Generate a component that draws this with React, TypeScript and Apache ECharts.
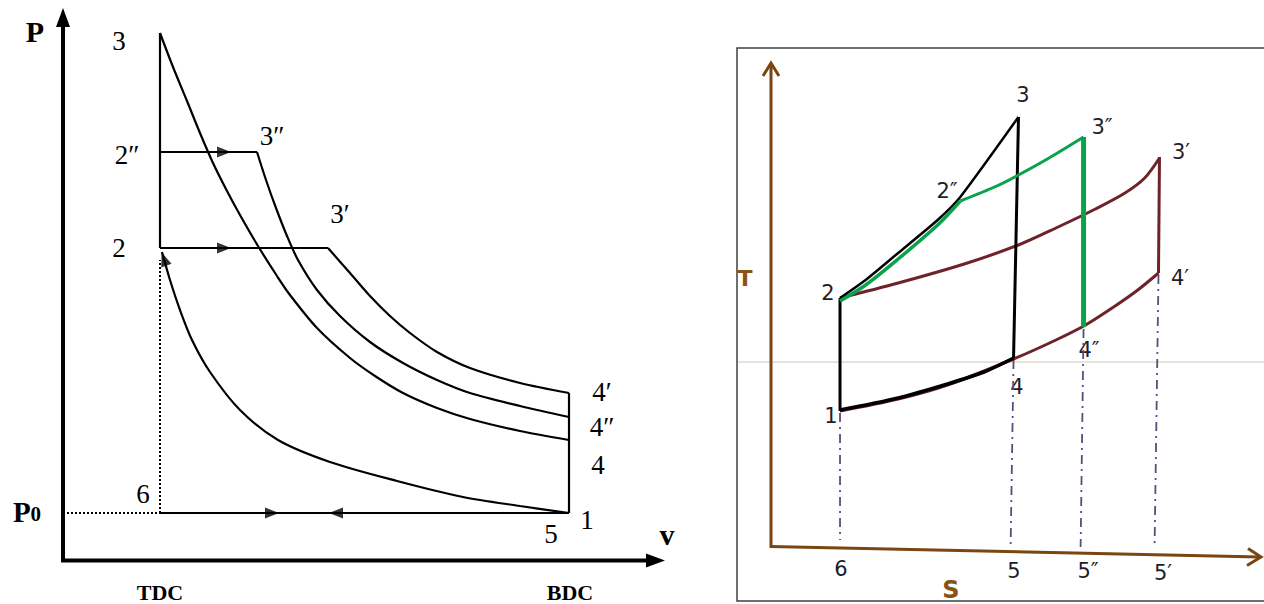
import React, { useEffect, useRef } from "react";
import * as echarts from "echarts";

// ---------- Left: P–v diagram (v measured right of the P axis, P above the v axis) ----------
const vTDC = 97;
const vBDC = 506;
const pP0 = 47;
const pState2 = 312;
const pState2dd = 408;
const pState3 = 527;
const vState3dd = 194;
const vState3d = 265;
const pState4d = 167;

const curve34: number[][] = [
  [97, 527], [110, 493], [124, 459], [137, 427], [150, 397], [164, 369], [177, 345],
  [195, 314], [214, 284], [227, 265], [254, 232], [287, 202], [312, 184], [340, 167],
  [374, 152], [407, 141], [457, 129], [506, 120],
];
const curve3dd4dd: number[][] = [
  [194, 408], [203, 380], [213, 352], [224, 324], [235, 300], [254, 270], [277, 244],
  [307, 218], [340, 197], [374, 180], [407, 167], [457, 154], [506, 143],
];
const curve3d4d: number[][] = [
  [265, 312], [287, 287], [307, 264], [327, 244], [347, 227], [374, 208], [407, 192],
  [457, 177], [506, 167],
];
const curve12: number[][] = [
  [506, 47], [457, 54], [400, 63], [334, 79], [267, 98], [215, 120], [177, 150],
  [147, 188], [129, 220], [117, 250], [107, 280], [99, 308],
];
const arrowsRight: number[][] = [[161, pState2dd], [161, pState2], [209, pP0]];
const arrowsLeft: number[][] = [[273, pP0]];
const arrowCompression: number[][] = [[101, 301]];

// ---------- Right: T–s diagram (s right of the T axis, T above the s axis) ----------
const ts1 = [70, 136];
const ts2 = [70, 249];
const ts3 = [251, 430];
const ts3dd = [317, 410];
const ts3d = [394, 390];
const ts4 = [246, 189];
const ts4dd = [317, 220];
const ts4d = [393, 274];

const tsBlack2to3: number[][] = [[70, 249], [96, 267], [129, 294], [169, 327], [192, 350], [251, 430]];
const tsBlack1to4: number[][] = [[70, 137], [129, 149], [179, 163], [216, 175], [246, 189]];
const tsGreen2to2dd: number[][] = [[70, 246], [96, 262], [129, 288], [169, 322], [192, 346]];
const tsGreen2ddto3dd: number[][] = [[192, 346], [229, 361], [251, 372], [282, 389], [317, 410]];
const tsMaroon2to3d: number[][] = [
  [70, 249], [129, 264], [196, 283], [251, 302], [289, 319], [329, 338], [359, 354], [379, 369], [394, 389],
];
const tsMaroon1to4d: number[][] = [
  [70, 136], [129, 148], [179, 162], [246, 188], [289, 207], [319, 222], [349, 241], [372, 257], [393, 274],
];
const tsProjections: number[][][] = [
  [[70, 134], [70, 7]],
  [[246, 187], [243, 1]],
  [[317, 218], [314, 0]],
  [[393, 272], [389, -1]],
];

const BLACK = "#000000";
const GREEN = "#0aa24b";
const MAROON = "#6e2229";
const BROWN = "#7a4510";
const DASHDOT = "#5e4b7c";
const SERIF = "Liberation Serif";
const SANS = "DejaVu Sans";

function seg(data: number[][], color: string, width: number, grid: number, extra: any = {}) {
  return {
    type: "line",
    xAxisIndex: grid,
    yAxisIndex: grid,
    data,
    symbol: "none",
    clip: false,
    silent: true,
    lineStyle: { color, width, ...(extra.lineStyle || {}) },
    smooth: extra.smooth ?? false,
    z: extra.z ?? 2,
  };
}

function arrows(data: number[][], rotate: number) {
  return {
    type: "scatter",
    xAxisIndex: 0,
    yAxisIndex: 0,
    data,
    symbol: "triangle",
    symbolSize: [11, 14],
    symbolRotate: rotate,
    itemStyle: { color: BLACK },
    clip: false,
    silent: true,
    z: 5,
  };
}

function txt(text: string, x: number, y: number, size: number, opts: any = {}) {
  return {
    type: "text",
    x,
    y,
    silent: true,
    style: {
      text,
      fill: opts.color || "#000",
      font: `${opts.bold ? "bold " : ""}${size}px "${opts.family || SERIF}"`,
      textAlign: "center",
      textVerticalAlign: "middle",
    },
  };
}

export default function App() {
  const ref = useRef<HTMLDivElement>(null);
  useEffect(() => {
    if (!ref.current) return;
    const chart = echarts.init(ref.current, undefined, { renderer: "svg" });
    const sansOpt = { family: SANS, color: "#1e1e28" };
    const SM = 0.3;
    const option: any = {
      animation: false,
      backgroundColor: "#ffffff",
      grid: [
        { left: 63, top: 10, width: 600, height: 550 },
        { left: 771, top: 0, width: 500, height: 547 },
      ],
      xAxis: [
        { type: "value", gridIndex: 0, min: 0, max: 600, show: false },
        { type: "value", gridIndex: 1, min: 0, max: 500, show: false },
      ],
      yAxis: [
        { type: "value", gridIndex: 0, min: 0, max: 550, show: false },
        { type: "value", gridIndex: 1, min: 0, max: 547, show: false },
      ],
      series: [
        // P–v diagram
        seg([[vTDC, pState2], [vTDC, pState3]], BLACK, 2.2, 0),
        seg([[vTDC, pState2dd], [vState3dd, pState2dd]], BLACK, 2.2, 0),
        seg([[vTDC, pState2], [vState3d, pState2]], BLACK, 2.2, 0),
        seg([[vTDC, pP0], [vBDC, pP0]], BLACK, 2.2, 0),
        seg([[vBDC, pP0], [vBDC, pState4d]], BLACK, 2.2, 0),
        seg(curve34, BLACK, 2.2, 0, { smooth: SM }),
        seg(curve3dd4dd, BLACK, 2.2, 0, { smooth: SM }),
        seg(curve3d4d, BLACK, 2.2, 0, { smooth: SM }),
        seg(curve12, BLACK, 2.2, 0, { smooth: SM }),
        seg([[0, pP0], [vTDC, pP0]], BLACK, 2, 0, { lineStyle: { type: [2, 2] } }),
        seg([[vTDC, pP0], [vTDC, 300]], BLACK, 2, 0, { lineStyle: { type: [2, 2] } }),
        arrows(arrowsRight, -90),
        arrows(arrowsLeft, 90),
        arrows(arrowCompression, 20),
        // T–s diagram
        ...tsProjections.map((p) => seg(p, DASHDOT, 1.8, 1, { lineStyle: { type: [9, 5, 2, 5] }, z: 1 })),
        seg(tsMaroon2to3d, MAROON, 3, 1, { smooth: SM }),
        seg([ts3d, ts4d], MAROON, 3, 1),
        seg(tsMaroon1to4d, MAROON, 3, 1, { smooth: SM }),
        seg(tsBlack1to4, BLACK, 3.5, 1, { smooth: SM, z: 3 }),
        seg([ts1, ts2], BLACK, 3, 1, { z: 3 }),
        seg(tsBlack2to3, BLACK, 2.5, 1, { smooth: 0.2, z: 3 }),
        seg([ts3, ts4], BLACK, 3, 1, { z: 3 }),
        seg(tsGreen2to2dd, GREEN, 3.5, 1, { smooth: SM, z: 4 }),
        seg(tsGreen2ddto3dd, GREEN, 3, 1, { smooth: SM, z: 4 }),
        seg([ts3dd, ts4dd], GREEN, 5, 1, { z: 4 }),
      ],
      graphic: [
        // right panel frame and faint rule
        { type: "rect", shape: { x: 737, y: 48, width: 540, height: 553 }, style: { fill: "none", stroke: "#404040", lineWidth: 1.5 }, silent: true, z: 0 },
        { type: "line", shape: { x1: 738, y1: 362, x2: 1264, y2: 362 }, style: { stroke: "#e6e3da", lineWidth: 2 }, silent: true, z: 0 },
        // left axes
        { type: "line", shape: { x1: 63, y1: 562, x2: 63, y2: 24 }, style: { stroke: BLACK, lineWidth: 4 }, silent: true },
        { type: "polygon", shape: { points: [[63, 8], [56, 27], [70, 27]] }, style: { fill: BLACK }, silent: true },
        { type: "line", shape: { x1: 61, y1: 560.5, x2: 650, y2: 560.5 }, style: { stroke: BLACK, lineWidth: 4 }, silent: true },
        { type: "polygon", shape: { points: [[665, 560.5], [646, 553.5], [646, 567.5]] }, style: { fill: BLACK }, silent: true },
        // right axes
        { type: "line", shape: { x1: 771, y1: 548, x2: 771, y2: 63 }, style: { stroke: BROWN, lineWidth: 3 }, silent: true },
        { type: "polyline", shape: { points: [[763, 76], [771, 63], [779, 76]] }, style: { stroke: BROWN, lineWidth: 3, fill: "none" }, silent: true },
        { type: "line", shape: { x1: 770, y1: 546.5, x2: 1260, y2: 557 }, style: { stroke: BROWN, lineWidth: 3 }, silent: true },
        { type: "polyline", shape: { points: [[1248, 548.5], [1261, 557], [1247, 565.5]] }, style: { stroke: BROWN, lineWidth: 3, fill: "none" }, silent: true },
        // left labels
        txt("P", 35, 31, 30, { bold: true }),
        txt("3", 119, 41, 27),
        txt("2″", 127, 155, 27),
        txt("2", 119, 248, 27),
        txt("3″", 272, 136, 27),
        txt("3′", 340, 214, 27),
        txt("6", 143, 494, 27),
        txt("5", 551, 534, 27),
        txt("1", 587, 520, 27),
        txt("4′", 602, 392, 27),
        txt("4″", 602, 427, 27),
        txt("4", 598, 465, 27),
        txt("v", 667, 534, 30, { bold: true }),
        {
          type: "text", x: 27, y: 512, silent: true,
          style: {
            text: "{p|P}{s|0}",
            textAlign: "center",
            textVerticalAlign: "middle",
            rich: {
              p: { font: `bold 29px "${SERIF}"`, fill: "#000" },
              s: { font: `bold 21px "${SERIF}"`, fill: "#000", padding: [4, 0, 0, 0] },
            },
          },
        },
        txt("TDC", 160, 592, 22, { bold: true }),
        txt("BDC", 570, 592, 22, { bold: true }),
        // right labels
        txt("3", 1023, 95, 21, sansOpt),
        txt("2″", 947, 191, 21, sansOpt),
        txt("2", 828, 293, 21, sansOpt),
        txt("3″", 1102, 127, 21, sansOpt),
        txt("3′", 1181, 152, 21, sansOpt),
        txt("4′", 1180, 278, 21, sansOpt),
        txt("4″", 1089, 350, 21, sansOpt),
        txt("4", 1017, 387, 21, sansOpt),
        txt("1", 831, 416, 21, sansOpt),
        txt("6", 841, 569, 21, sansOpt),
        txt("5", 1014, 571, 21, sansOpt),
        txt("5″", 1088, 571, 21, sansOpt),
        txt("5′", 1163, 573, 21, sansOpt),
        txt("T", 745, 278, 22, { family: SANS, color: "#8a5216", bold: true }),
        txt("S", 951, 590, 24, { family: SANS, color: "#8a5216", bold: true }),
      ],
    };
    chart.setOption(option);
    return () => chart.dispose();
  }, []);
  return (
    <div
      ref={ref}
      style={{ position: "fixed", left: 0, top: 0, width: 1264, height: 604, background: "#fff" }}
    />
  );
}
